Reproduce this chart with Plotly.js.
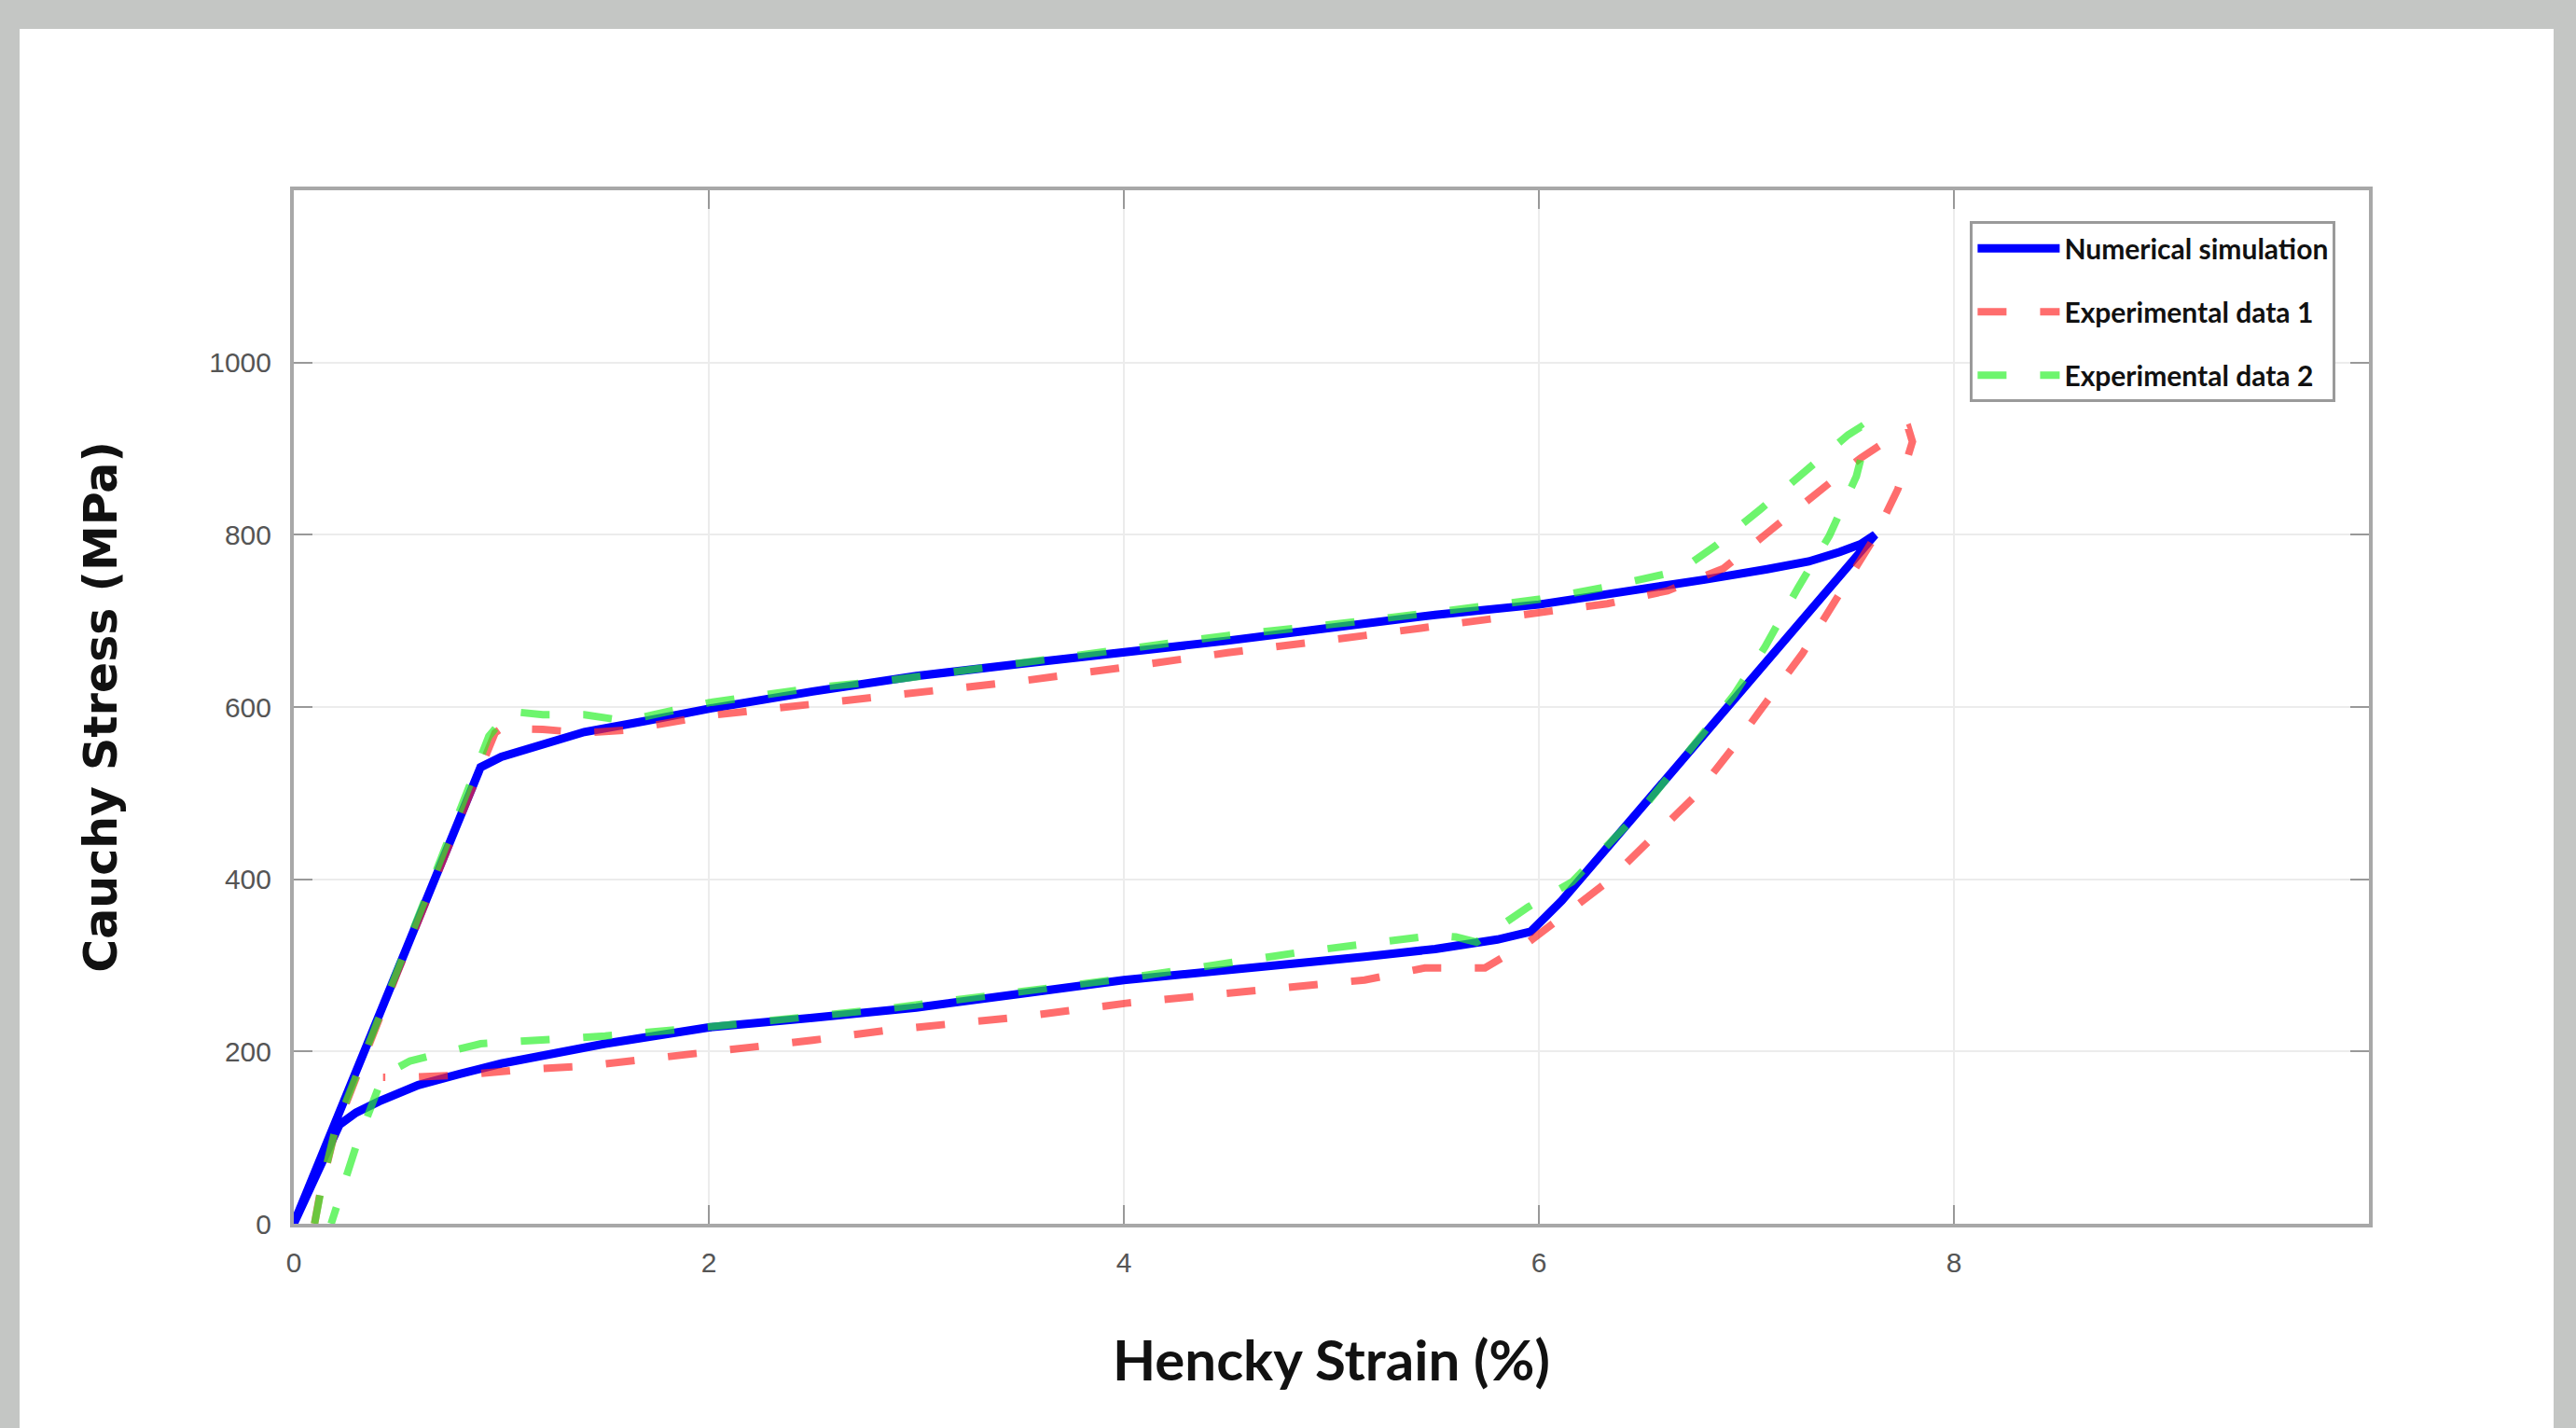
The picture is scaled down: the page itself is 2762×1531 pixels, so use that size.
<!DOCTYPE html>
<html>
<head>
<meta charset="utf-8">
<script src="https://cdn.plot.ly/plotly-3.0.1.min.js"></script>
<style>
  html, body { margin:0; padding:0; background:#c4c6c4; width:2762px; height:1531px; overflow:hidden; }
  #chart { position:absolute; left:21px; top:31px; width:2717px; height:1500px; background:#ffffff; }
</style>
</head>
<body>
<div id="chart"></div>
<script>
// Numerical simulation (loading then unloading loop)
const simX = [0, 0.9, 1.0, 1.2, 1.4, 1.7, 2.0, 2.5, 3.0, 3.5, 4.0, 4.5, 5.0, 5.5, 6.0, 6.5, 6.8, 7.1, 7.3, 7.45, 7.55, 7.62,
              7.29, 6.94, 6.49, 6.11, 6.03, 5.96, 5.8, 5.5, 5.16, 4.5, 4.0, 3.5, 3.0, 2.5, 2.0, 1.5, 1.0, 0.8, 0.6, 0.41, 0.3, 0.22, 0];
const simY = [0, 530, 542, 557, 571, 584, 598, 618, 636, 650, 663, 677, 692, 707, 719, 736, 748, 760, 769, 780, 789, 800,
              708, 609, 482, 375, 354, 339, 330, 319, 310, 295, 283, 267, 251, 239, 228, 209, 186, 174, 161, 142, 129, 115, 0];

// Experimental data 1
const exp1X = [0.1, 0.13, 0.2, 0.5, 0.8, 0.97, 1.0, 1.2, 1.4, 1.6, 2.0, 2.5, 2.87, 3.5, 4.0, 4.5, 5.16, 5.75, 6.04, 6.33, 6.62, 6.89, 7.1, 7.33, 7.55, 7.75, 7.78, 7.8,
               7.73, 7.62, 7.43, 7.27, 7.1, 6.93, 6.75, 6.54, 6.33, 6.13, 5.95, 5.74, 5.6, 5.45, 5.16, 4.5, 4.01, 3.5, 2.87, 2.5, 2.0, 1.7, 1.4, 1.1, 0.83, 0.56, 0.43];
const exp1Y = [0, 40, 108, 292, 470, 570, 575, 574, 570, 573, 590, 603, 613, 630, 646, 663, 683, 701, 711, 720, 735, 761, 802, 846, 889, 921, 924, 908,
               853, 798, 725, 662, 607, 551, 496, 445, 397, 360, 327, 297, 298, 297, 283, 268, 256, 240, 225, 213, 199, 191, 183, 179, 173, 170, 170];

// Experimental data 2
const exp2X = [0.1, 0.14, 0.2, 0.5, 0.94, 1.04, 1.2, 1.4, 1.6, 2.0, 2.5, 2.87, 3.5, 4.0, 4.5, 5.16, 5.53, 6.0, 6.32, 6.6, 6.72, 6.85, 7.07, 7.29, 7.49, 7.55, 7.58,
               7.53, 7.4, 7.25, 7.09, 6.94, 6.49, 6.16, 6.02, 5.95, 5.7, 5.6, 5.5, 4.87, 4.01, 2.87, 2.02, 1.5, 0.9, 0.56, 0.43, 0.3, 0.18];
const exp2Y = [0, 50, 110, 295, 566, 595, 591, 591, 584, 605, 622, 631, 651, 668, 683, 700, 711, 725, 739, 754, 765, 787, 830, 875, 916, 925, 915,
               868, 799, 739, 670, 614, 479, 397, 379, 368, 327, 333, 335, 316, 285, 250, 229, 218, 209, 189, 172, 90, 0];

const seriesNames = ['Numerical simulation', 'Experimental data 1', 'Experimental data 2'];
const xTicks = [0, 2, 4, 6, 8];
const yTicks = [0, 200, 400, 600, 800, 1000];

const traces = [
  { x: simX, y: simY, name: seriesNames[0], legendgroup: 'g1', mode: 'lines', type: 'scatter',
    line: { color: '#0000ff', width: 9 } },
  { x: exp1X, y: exp1Y, name: seriesNames[1], legendgroup: 'g2', mode: 'lines', type: 'scatter',
    line: { color: 'rgba(255,40,40,0.68)', width: 8, dash: '31px,36px' } },
  { x: exp2X, y: exp2Y, name: seriesNames[2], legendgroup: 'g3', mode: 'lines', type: 'scatter',
    line: { color: 'rgba(40,240,40,0.68)', width: 8, dash: '31px,36px' } }
];

const axisCommon = {
  ticks: 'inside', ticklen: 20, tickwidth: 2, tickcolor: '#999999',
  showline: true, linecolor: '#a8a8a8', linewidth: 4, mirror: 'ticks',
  showgrid: true, gridcolor: '#ececec', gridwidth: 2, zeroline: false,
  tickfont: { family: 'Liberation Sans, Arial, sans-serif', size: 30, color: '#555555' }
};

const layout = {
  width: 2717, height: 1500,
  paper_bgcolor: '#ffffff', plot_bgcolor: '#ffffff',
  margin: { l: 294, r: 198, t: 173, b: 219 },
  showlegend: true,
  xaxis: Object.assign({}, axisCommon, {
    range: [0, 10], tickvals: xTicks, ticktext: xTicks.map(String), ticklabelstandoff: 12,
    title: { text: 'Hencky Strain (%)', standoff: 70,
      font: { family: 'Lato, sans-serif', size: 60, weight: 'bold', color: '#111111' } }
  }),
  yaxis: Object.assign({}, axisCommon, {
    range: [0, 1200], tickvals: yTicks, ticktext: yTicks.map(String), ticklabelstandoff: 14,
    title: { text: 'Cauchy Stress (MPa)', standoff: 84,
      font: { family: 'DejaVu Sans, sans-serif', size: 49, weight: 'bold', color: '#111111' } }
  }),
  legend: {
    x: 0.984, y: 0.970, xanchor: 'right', yanchor: 'top',
    bgcolor: '#ffffff', bordercolor: '#9a9a9a', borderwidth: 3,
    font: { family: 'Lato, sans-serif', size: 30, weight: 'bold', color: '#111111' },
    traceorder: 'grouped', tracegroupgap: 26, itemwidth: 88
  }
};

Plotly.newPlot('chart', traces, layout, { displayModeBar: false, staticPlot: true });
</script>
</body>
</html>
